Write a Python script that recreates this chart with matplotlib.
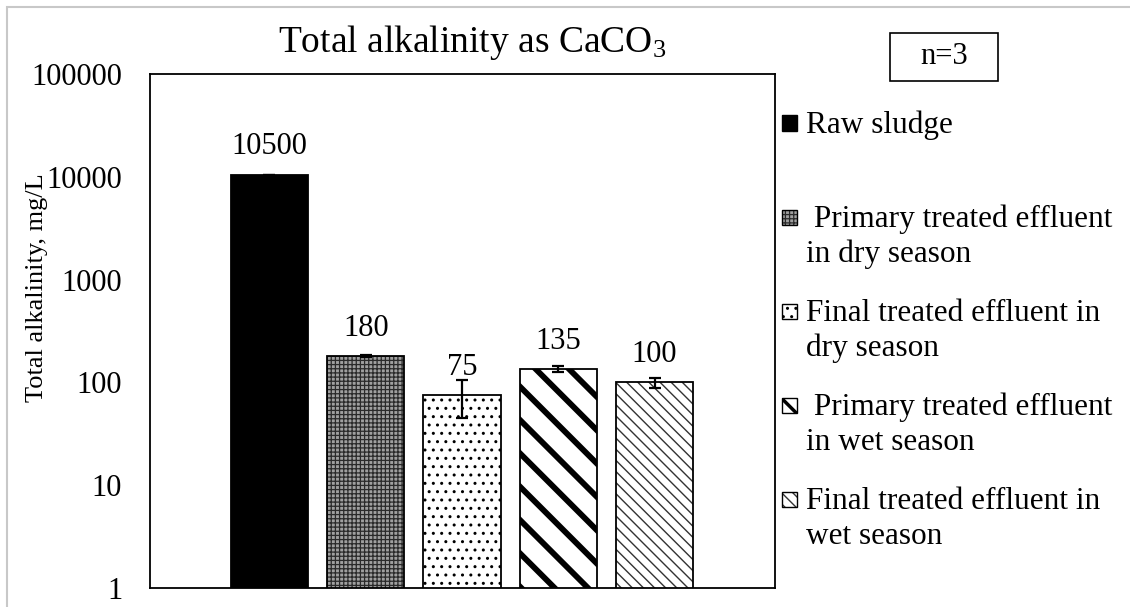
import matplotlib
matplotlib.use("Agg")
import matplotlib.pyplot as plt
from matplotlib.patches import Rectangle
from matplotlib.ticker import FixedLocator, FixedFormatter, NullLocator

# ---- data ----
CATEGORIES = [
    "Raw sludge",
    " Primary treated effluent\nin dry season",
    "Final treated effluent in\ndry season",
    " Primary treated effluent\nin wet season",
    "Final treated effluent in\nwet season",
]
VALUES = [10500, 180, 75, 135, 100]
ERRORS = [0, 5, 30, 10, 11]
YTICKS = [1, 10, 100, 1000, 10000, 100000]
YTICK_LABELS = ["1", "10", "100", "1000", "10000", "100000"]
TITLE = "Total alkalinity as CaCO$_3$"
YLABEL = "Total alkalinity, mg/L"
NOTE = "n=3"

# ---- fill styles: (face, hatch, hatch colour, hatch lw, legend hatch, legend hatch lw) ----
STYLES = [
    ("black", "", "black", 1.0, "", 1.0),
    ("#a0a0a0", "++++", "#2a2a2a", 0.9, "++++", 0.9),
    ("white", "..", "black", 1.0, "..", 1.0),
    ("white", "\\", "black", 4.2, "\\\\", 2.5),
    ("white", "\\\\\\", "#333333", 1.0, "\\\\\\", 1.0),
]

W, H = 1130, 607
plt.rcParams["font.family"] = "serif"
plt.rcParams["font.serif"] = ["Liberation Serif", "DejaVu Serif"]
plt.rcParams["mathtext.fontset"] = "custom"
plt.rcParams["mathtext.rm"] = "Liberation Serif"
plt.rcParams["mathtext.it"] = "Liberation Serif:italic"


def fx(x):
    return x / W


def fy(y):
    return 1 - y / H


def set_hlw(patch, hlw):
    # per-artist hatch width where the matplotlib version supports it
    if hasattr(patch, "set_hatch_linewidth"):
        patch.set_hatch_linewidth(hlw)


fig = plt.figure(figsize=(W / 100, H / 100), dpi=100)
ax = fig.add_axes([fx(150), fy(588), fx(775) - fx(150), fy(74) - fy(588)])

xs = list(range(len(VALUES)))
for i, (v, st) in enumerate(zip(VALUES, STYLES)):
    face, hatch, hcol, hlw = st[:4]
    with plt.rc_context({"hatch.linewidth": hlw}):
        bars = ax.bar(xs[i], v, width=0.8, color=face, edgecolor=hcol,
                      hatch=hatch or None, linewidth=0, zorder=2)
    for p in bars:
        set_hlw(p, hlw)
ax.bar(xs, VALUES, width=0.8, fill=False, edgecolor="black", linewidth=1.3, zorder=3)
ax.errorbar(xs, VALUES, yerr=ERRORS, fmt="none", ecolor="black", elinewidth=1.6,
            capsize=4.5, capthick=1.6, zorder=4)

for x, v in zip(xs, VALUES):
    ax.annotate(f"{v}", (x, v), xytext=(0, 20), textcoords="offset points",
                ha="center", va="center", fontsize=22)

ax.set_yscale("log")
ax.set_ylim(1, 100000)
ax.set_xlim(-1.24, 5.25)
ax.yaxis.set_major_locator(FixedLocator(YTICKS))
ax.yaxis.set_major_formatter(FixedFormatter(YTICK_LABELS))
ax.yaxis.set_minor_locator(NullLocator())
ax.set_xticks([])
ax.tick_params(axis="y", length=0, pad=20, labelsize=22)
for s in ax.spines.values():
    s.set_linewidth(1.3)
    s.set_color("black")

ax.set_ylabel(YLABEL, fontsize=19)
ax.yaxis.set_label_coords(-0.163, 0.584)

fig.text(fx(472), fy(42), TITLE, fontsize=27, ha="center", va="center")

# n=3 box
fig.add_artist(Rectangle((fx(890), fy(81)), fx(998) - fx(890), fy(33) - fy(81),
                         transform=fig.transFigure, fill=False, edgecolor="black",
                         linewidth=1.2))
fig.text(fx(944), fy(57), NOTE, fontsize=22, ha="center", va="center")

# legend drawn by hand: marker sits on the first line of each label
leg_y = [123, 217, 311, 405, 499]
line_gap = 35
sq = 15
for st, lab, y in zip(STYLES, CATEGORIES, leg_y):
    face, _, hcol, _, lhatch, llw = st
    with plt.rc_context({"hatch.linewidth": llw}):
        r = Rectangle((fx(782), fy(y + sq / 2)), fx(sq), fy(0) - fy(sq),
                      transform=fig.transFigure, facecolor=face, edgecolor=hcol,
                      hatch=lhatch or None, linewidth=0)
    set_hlw(r, llw)
    fig.add_artist(r)
    fig.add_artist(Rectangle((fx(782), fy(y + sq / 2)), fx(sq), fy(0) - fy(sq),
                             transform=fig.transFigure, fill=False,
                             edgecolor="black", linewidth=1.0))
    for k, line in enumerate(lab.split("\n")):
        fig.text(fx(806), fy(y + 10 + k * line_gap), line, fontsize=22.5,
                 ha="left", va="baseline")

# light outer frame (top/left edges visible in the reference)
fig.add_artist(Rectangle((fx(7), fy(H + 20)), fx(W + 20), fy(7) - fy(H + 20),
                         transform=fig.transFigure, fill=False,
                         edgecolor="#c8c8c8", linewidth=1.5))

fig.savefig("out.png", dpi=100)
